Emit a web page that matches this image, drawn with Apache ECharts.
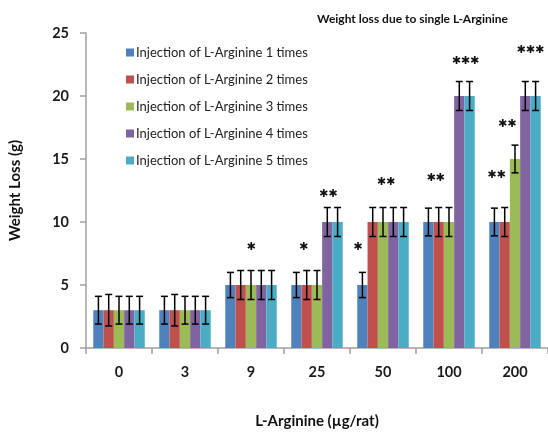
<!DOCTYPE html>
<html>
<head>
<meta charset="utf-8">
<script src="https://cdn.jsdelivr.net/npm/echarts@6/dist/echarts.min.js"></script>
<style>html,body{margin:0;padding:0;background:#fff}#c{width:548px;height:434px}</style>
</head>
<body>
<div id="c"></div>
<script>
var categories = ['0', '3', '9', '25', '50', '100', '200'];
var seriesNames = [
  'Injection of L-Arginine 1 times',
  'Injection of L-Arginine 2 times',
  'Injection of L-Arginine 3 times',
  'Injection of L-Arginine 4 times',
  'Injection of L-Arginine 5 times'
];
var colors = ['#4F81BD', '#C0504D', '#9BBB59', '#8064A2', '#4BACC6'];
var times1 = [3, 3, 5, 5, 5, 10, 10];
var times2 = [3, 3, 5, 5, 10, 10, 10];
var times3 = [3, 3, 5, 5, 10, 10, 15];
var times4 = [3, 3, 5, 10, 10, 20, 20];
var times5 = [3, 3, 5, 10, 10, 20, 20];
var err1 = [1.1, 1.1, 1.0, 1.0, 1.0, 1.1, 1.1];
var err2 = [1.25, 1.25, 1.15, 1.15, 1.15, 1.15, 1.15];
var err3 = [1.1, 1.1, 1.15, 1.15, 1.15, 1.15, 1.1];
var err4 = [1.1, 1.1, 1.15, 1.15, 1.15, 1.15, 1.15];
var err5 = [1.1, 1.1, 1.15, 1.15, 1.15, 1.15, 1.15];
var yTicks = [0, 5, 10, 15, 20, 25];
// significance marks: category index, position across the bar group (0 = first bar, 4 = last), height, text
var starCat = [2, 3, 3, 4, 4, 5, 5, 6, 6, 6];
var starPos = [2.0, 0.7, 3.1, -0.45, 2.3, 0.7, 3.6, 0.2, 1.25, 3.5];
var starVal = [8.0, 8.0, 12.2, 8.0, 13.2, 13.5, 22.8, 13.7, 17.8, 23.6];
var starText = ['✱', '✱', '✱✱', '✱', '✱✱', '✱✱', '✱✱✱', '✱✱', '✱✱', '✱✱✱'];

var values = [times1, times2, times3, times4, times5];
var errs = [err1, err2, err3, err4, err5];
var GAP = 0.22;

var series = [];
values.forEach(function (v, i) {
  series.push({
    name: seriesNames[i], type: 'bar', data: v, barGap: '0%', barCategoryGap: (GAP * 100) + '%',
    itemStyle: { color: colors[i] }, z: 2
  });
});
values.forEach(function (v, i) {
  var d = v.map(function (val, k) { return [k, val, errs[i][k]]; });
  series.push({
    type: 'custom', data: d, z: 5, silent: true,
    renderItem: function (params, api) {
      var k = api.value(0), val = api.value(1), e = api.value(2);
      var band = api.size([1, 0])[0];
      var bw = band * (1 - GAP) / 5;
      var c = api.coord([k, val]);
      var x = c[0] - band * (1 - GAP) / 2 + bw * (i + 0.5);
      var yt = api.coord([k, val + e])[1];
      var yb = api.coord([k, val - e])[1];
      var cap = 3.5;
      var st = { stroke: '#000', lineWidth: 1.5 };
      return { type: 'group', children: [
        { type: 'line', shape: { x1: x, y1: yt, x2: x, y2: yb }, style: st },
        { type: 'line', shape: { x1: x - cap, y1: yt, x2: x + cap, y2: yt }, style: st },
        { type: 'line', shape: { x1: x - cap, y1: yb, x2: x + cap, y2: yb }, style: st }
      ] };
    }
  });
});
series.push({
  type: 'custom', z: 6, silent: true,
  data: starCat.map(function (c, j) { return [c, starVal[j], starPos[j], j]; }),
  renderItem: function (params, api) {
    var k = api.value(0), val = api.value(1), pos = api.value(2), j = api.value(3);
    var band = api.size([1, 0])[0];
    var bw = band * (1 - GAP) / 5;
    var c = api.coord([k, val]);
    var x = c[0] + (pos - 2) * bw;
    return { type: 'text', style: {
      x: x, y: c[1], text: starText[j], align: 'center', verticalAlign: 'middle',
      fill: '#111', font: 'bold 11px "DejaVu Sans"'
    } };
  }
});

var chart = echarts.init(document.getElementById('c'), null, { renderer: 'canvas' });
chart.setOption({
  animation: false,
  backgroundColor: '#fff',
  title: {
    text: 'Weight loss due to single L-Arginine', left: 312, top: 8,
    textStyle: { fontFamily: 'Lato', fontWeight: 'bold', fontSize: 12, color: '#111' }
  },
  legend: {
    orient: 'vertical', left: 121, top: 41, itemWidth: 8, itemHeight: 8, itemGap: 14,
    icon: 'rect', data: seriesNames,
    textStyle: { fontFamily: 'Lato', fontSize: 13, color: '#222', padding: [0, 0, 0, -3] }
  },
  grid: { left: 77, right: -5, top: 33, bottom: 80, containLabel: false },
  xAxis: {
    type: 'category', data: categories,
    name: 'L-Arginine (µg/rat)', nameLocation: 'middle', nameGap: 66,
    nameTextStyle: { fontFamily: 'Lato', fontWeight: 'bold', fontSize: 15, color: '#111' },
    axisLine: { lineStyle: { color: '#a0a0a0', width: 1.5 } },
    axisTick: { show: true, length: 6, lineStyle: { color: '#a0a0a0', width: 1.5 } },
    axisLabel: { margin: 17, fontFamily: 'Lato', fontWeight: 'bold', fontSize: 14.5, color: '#1a1a1a' }
  },
  yAxis: {
    type: 'value', min: 0, max: 25, interval: 5,
    name: 'Weight Loss (g)', nameLocation: 'middle', nameGap: 63, nameRotate: 90,
    nameTextStyle: { fontFamily: 'Lato', fontWeight: 'bold', fontSize: 15, color: '#111' },
    axisLine: { show: true, lineStyle: { color: '#a0a0a0', width: 1.5 } },
    axisTick: { show: true, length: 6, lineStyle: { color: '#a0a0a0', width: 1.5 } },
    splitLine: { show: false },
    axisLabel: { margin: 17, fontFamily: 'Lato', fontWeight: 'bold', fontSize: 14.5, color: '#1a1a1a',
      formatter: function (v) { return yTicks.indexOf(v) >= 0 ? String(v) : ''; } }
  },
  series: series
});
</script>
</body>
</html>
